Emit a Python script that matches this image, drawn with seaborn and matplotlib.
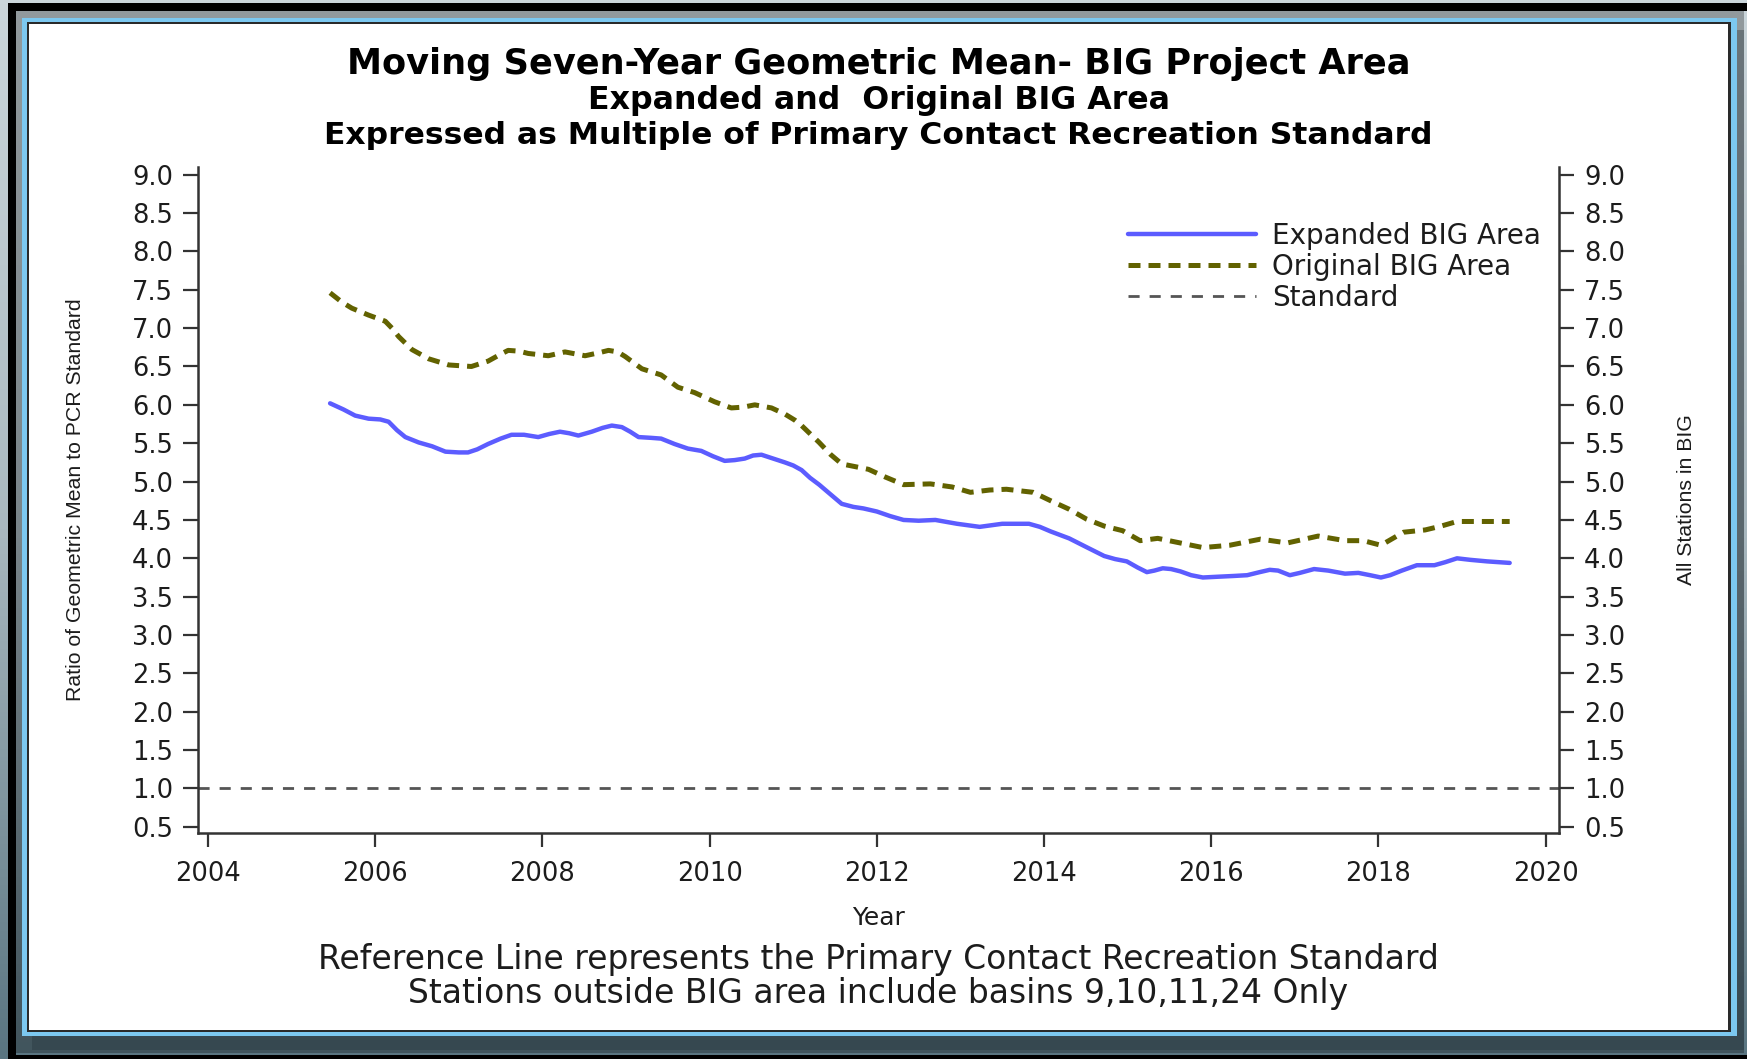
import numpy as np
import pandas as pd
import matplotlib
matplotlib.use("Agg")
import matplotlib.pyplot as plt
import seaborn as sns
from matplotlib.patches import Rectangle
from matplotlib.colors import LinearSegmentedColormap

# ---------------- data ----------------
expanded_years = [2005.46, 2005.62, 2005.76, 2005.92, 2006.06, 2006.16, 2006.26, 2006.36, 2006.52, 2006.68,
                  2006.84, 2007.00, 2007.11, 2007.22, 2007.35, 2007.50, 2007.63, 2007.78, 2007.95, 2008.08,
                  2008.21, 2008.32, 2008.43, 2008.59, 2008.72, 2008.83, 2008.95, 2009.05, 2009.15, 2009.30,
                  2009.42, 2009.58, 2009.74, 2009.90, 2010.04, 2010.18, 2010.30, 2010.42, 2010.52, 2010.62,
                  2010.76, 2010.90, 2011.00, 2011.10, 2011.20, 2011.31, 2011.45, 2011.58, 2011.72, 2011.84,
                  2012.00, 2012.16, 2012.32, 2012.50, 2012.70, 2012.96, 2013.23, 2013.50, 2013.82, 2013.95,
                  2014.08, 2014.30, 2014.50, 2014.72, 2014.85, 2014.99, 2015.12, 2015.23, 2015.32, 2015.42,
                  2015.52, 2015.63, 2015.76, 2015.90, 2016.08, 2016.27, 2016.43, 2016.58, 2016.70, 2016.80,
                  2016.94, 2017.06, 2017.23, 2017.40, 2017.60, 2017.76, 2017.90, 2018.03, 2018.14, 2018.28,
                  2018.46, 2018.67, 2018.80, 2018.94, 2019.10, 2019.30, 2019.57]
expanded_values = [6.02, 5.94, 5.86, 5.82, 5.81, 5.78, 5.67, 5.58, 5.51, 5.46,
                   5.39, 5.38, 5.38, 5.42, 5.49, 5.56, 5.61, 5.61, 5.58, 5.62,
                   5.65, 5.63, 5.60, 5.65, 5.70, 5.73, 5.71, 5.65, 5.58, 5.57,
                   5.56, 5.49, 5.43, 5.40, 5.33, 5.27, 5.28, 5.30, 5.34, 5.35,
                   5.30, 5.25, 5.21, 5.15, 5.05, 4.96, 4.83, 4.71, 4.67, 4.65,
                   4.61, 4.55, 4.50, 4.49, 4.50, 4.45, 4.41, 4.45, 4.45, 4.41,
                   4.35, 4.26, 4.15, 4.03, 3.99, 3.96, 3.88, 3.82, 3.84, 3.87,
                   3.86, 3.83, 3.78, 3.75, 3.76, 3.77, 3.78, 3.82, 3.85, 3.84,
                   3.78, 3.81, 3.86, 3.84, 3.80, 3.81, 3.78, 3.75, 3.78, 3.84,
                   3.91, 3.91, 3.95, 4.00, 3.98, 3.96, 3.94]

original_years = [2005.46, 2005.60, 2005.72, 2005.92, 2006.12, 2006.20, 2006.28, 2006.44, 2006.64, 2006.88,
                  2007.15, 2007.35, 2007.50, 2007.59, 2007.72, 2007.83, 2008.07, 2008.27, 2008.51, 2008.68,
                  2008.79, 2008.90, 2008.99, 2009.19, 2009.42, 2009.62, 2009.82, 2010.06, 2010.26, 2010.40,
                  2010.54, 2010.74, 2010.90, 2011.02, 2011.10, 2011.31, 2011.45, 2011.58, 2011.90, 2012.10,
                  2012.32, 2012.64, 2012.90, 2013.12, 2013.35, 2013.55, 2013.87, 2014.08, 2014.30, 2014.51,
                  2014.72, 2014.94, 2015.15, 2015.36, 2015.63, 2015.90, 2016.22, 2016.59, 2016.91, 2017.28,
                  2017.60, 2017.82, 2018.03, 2018.30, 2018.56, 2018.75, 2018.94, 2019.20, 2019.57]
original_values = [7.46, 7.34, 7.26, 7.17, 7.09, 7.00, 6.89, 6.72, 6.60, 6.52,
                   6.50, 6.57, 6.66, 6.71, 6.70, 6.67, 6.64, 6.69, 6.64, 6.68,
                   6.71, 6.69, 6.63, 6.47, 6.39, 6.23, 6.16, 6.04, 5.96, 5.97,
                   6.00, 5.96, 5.88, 5.80, 5.73, 5.51, 5.35, 5.23, 5.16, 5.06,
                   4.96, 4.97, 4.93, 4.86, 4.89, 4.90, 4.86, 4.75, 4.64, 4.51,
                   4.42, 4.36, 4.23, 4.26, 4.20, 4.14, 4.17, 4.25, 4.20, 4.29,
                   4.23, 4.23, 4.17, 4.34, 4.37, 4.42, 4.48, 4.48, 4.48]

standard_value = 1.0

x_ticks = [2004, 2006, 2008, 2010, 2012, 2014, 2016, 2018, 2020]
y_ticks = [0.5, 1.0, 1.5, 2.0, 2.5, 3.0, 3.5, 4.0, 4.5, 5.0, 5.5, 6.0, 6.5, 7.0, 7.5, 8.0, 8.5, 9.0]
y_tick_labels = ["%.1f" % v for v in y_ticks]

legend_labels = ["Expanded BIG Area", "Original BIG Area", "Standard"]
title_lines = ["Moving Seven-Year Geometric Mean- BIG Project Area",
               "Expanded and  Original BIG Area",
               "Expressed as Multiple of Primary Contact Recreation Standard"]
footer_lines = ["Reference Line represents the Primary Contact Recreation Standard",
                "Stations outside BIG area include basins 9,10,11,24 Only"]
x_label = "Year"
y_label_left = "Ratio of Geometric Mean to PCR Standard"
y_label_right = "All Stations in BIG"

# ---------------- style ----------------
sns.set_style("ticks")
plt.rcParams['font.family'] = ['DejaVu Sans']
TXT = '#1c1c1c'
AXC = '#333333'

W, H = 1747, 1059
fig = plt.figure(figsize=(W / 100, H / 100), dpi=100)

# ---------------- slide-like frame ----------------
bg = fig.add_axes([0, 0, 1, 1], zorder=-10)
bg.set_xlim(0, W)
bg.set_ylim(H, 0)
bg.axis('off')
grad = np.linspace(0, 1, 256)[:, None]
cmap = LinearSegmentedColormap.from_list('bg', ['#cbd6db', '#a9b8bf', '#5a7581'])
bg.imshow(grad, extent=(0, W, H, 0), cmap=cmap, aspect='auto')
bg.add_patch(Rectangle((16, 11), 1728, 1042, facecolor='black', alpha=0.28, lw=0))
bg.add_patch(Rectangle((32, 30), 1712, 1020, facecolor='#22313a', alpha=0.35, lw=0))
bg.add_patch(Rectangle((8, 3), W - 8, 8, facecolor='black', lw=0))
bg.add_patch(Rectangle((8, 3), 8, H - 3, facecolor='black', lw=0))
bg.add_patch(Rectangle((8, 1055), W - 8, 4, facecolor='black', lw=0))
bg.add_patch(Rectangle((22.5, 17.5), 1714.5, 1018.5, facecolor='#7cc8f0', lw=0))
bg.add_patch(Rectangle((27, 22), 1704, 1010, facecolor='#2a2a2a', lw=0))
bg.add_patch(Rectangle((29.5, 24), 1698.5, 1006, facecolor='white', lw=0))

# ---------------- main axes ----------------
L, R, T, B = 198, 1559, 167, 833
ax = fig.add_axes([L / W, 1 - B / H, (R - L) / W, (B - T) / H])
ax.set_facecolor('none')

sns.lineplot(x=expanded_years, y=expanded_values, ax=ax, color='#5c5cff', linewidth=3.2,
             legend=False)
sns.lineplot(x=original_years, y=original_values, ax=ax, color='#626200', linewidth=3.6,
             linestyle=(0, (2.4, 1.6)), legend=False)
ax.axhline(standard_value, color='#555555', linewidth=2.0, linestyle=(0, (4.0, 3.6)))
lines = ax.get_lines()

ax.set_xlim(2003.88, 2020.16)
ax.set_ylim(0.42, 9.10)
ax.set_xticks(x_ticks)
ax.set_xticklabels([str(v) for v in x_ticks])
ax.set_yticks(y_ticks)
ax.set_yticklabels(y_tick_labels)

for s in ['top', 'right']:
    ax.spines[s].set_visible(False)
for s in ['left', 'bottom']:
    ax.spines[s].set_color(AXC)
    ax.spines[s].set_linewidth(1.8)
ax.tick_params(axis='y', direction='out', length=11, width=1.6, color=AXC,
               labelsize=18.5, labelcolor=TXT, pad=7)
ax.tick_params(axis='x', direction='out', length=10, width=1.6, color=AXC,
               labelsize=18.5, labelcolor=TXT, pad=10.5)

ax.set_xlabel(x_label, fontsize=18, color=TXT, va='center')
ax.xaxis.set_label_coords(0.5, (B - 918) / (B - T))
ax.set_ylabel(y_label_left, fontsize=15.3, color=TXT, va='center', family='Liberation Sans')
ax.yaxis.set_label_coords((76 - L) / (R - L), 0.5)

ax2 = ax.twinx()
ax2.set_ylim(ax.get_ylim())
ax2.set_yticks(y_ticks)
ax2.set_yticklabels(y_tick_labels)
for s in ['top', 'left', 'bottom']:
    ax2.spines[s].set_visible(False)
ax2.spines['right'].set_color(AXC)
ax2.spines['right'].set_linewidth(1.8)
ax2.tick_params(axis='y', direction='out', length=11, width=1.6, color=AXC,
                labelsize=18.5, labelcolor=TXT, pad=7)
ax2.set_ylabel(y_label_right, fontsize=15.3, color=TXT, va='center', family='Liberation Sans')
ax2.yaxis.set_label_coords((1687 - L) / (R - L), 0.5)

# legend
leg = ax2.legend(handles=lines[:3], labels=legend_labels, loc='upper left',
                 bbox_to_anchor=(1128 / W, 1 - 222 / H), bbox_transform=fig.transFigure,
                 frameon=False, fontsize=20, handlelength=4.62, handletextpad=0.57,
                 labelspacing=0.1, borderpad=0, borderaxespad=0)
for t in leg.get_texts():
    t.set_color(TXT)

# titles and footer
cx = (L + R) / 2 / W
title_sizes = [25.3, 22.8, 22.6]
for txt, yy, fs in zip(title_lines, [64, 101, 136], title_sizes):
    fig.text(cx, 1 - yy / H, txt, ha='center', va='center', fontsize=fs,
             fontweight='bold', color='black')
for txt, yy in zip(footer_lines, [959, 994]):
    fig.text(cx, 1 - yy / H, txt, ha='center', va='center', fontsize=23.8, color=TXT)

fig.savefig('out.png', dpi=100)
